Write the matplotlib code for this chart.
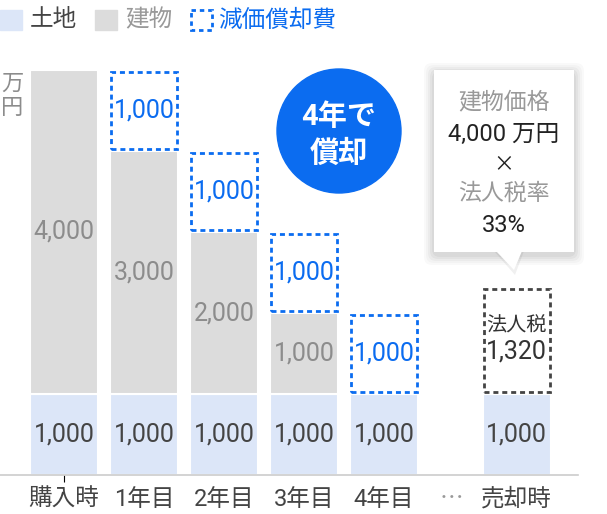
import matplotlib
matplotlib.use('Agg')
import matplotlib.pyplot as plt
from matplotlib.patches import Rectangle, Circle, Polygon, FancyBboxPatch

# 数字は Roboto、漢字は Noto Sans CJK JP
plt.rcParams['font.family'] = ['Roboto', 'Noto Sans CJK JP', 'DejaVu Sans']
CJK = ['Noto Sans CJK JP', 'DejaVu Sans']

# データ
labels = ['購入時', '1年目', '2年目', '3年目', '4年目', '…', '売却時']
tick_pos = [0, 1, 2, 3, 4, 4.84, 5.66]
bar_pos = [0, 1, 2, 3, 4, 5.66]
land = [1000, 1000, 1000, 1000, 1000, 1000]
building = [4000, 3000, 2000, 1000, 0, 0]
depreciation = [0, 1000, 1000, 1000, 1000, 0]
tax = [0, 0, 0, 0, 0, 1320]

C_LAND = '#dce6f8'
C_BLDG = '#dcdcdc'
C_BLUE = '#0b6cf0'
C_DARK = '#444444'
C_GRAY = '#8c8c8c'

W, H = 607, 514
fig = plt.figure(figsize=(W / 100, H / 100), dpi=100)

# メインの軸（底辺 y=475px, 1000 = 81px）
base_px = 475
px_per_k = 81
ax = fig.add_axes([0, (H - base_px) / H, 1, base_px / H])
ax.set_ylim(0, base_px / px_per_k * 1000)
ax.set_xlim(-0.8, (W - 64) / 80)

bw = 0.85
ax.bar(bar_pos, land, width=bw, color=C_LAND, edgecolor='white', linewidth=1.5)
ax.bar(bar_pos, building, bottom=land, width=bw, color=C_BLDG, edgecolor='white', linewidth=1.5)

# 減価償却費（点線の箱）
dep_bottom = [l + b for l, b in zip(land, building)]
for x, b, d in zip(bar_pos, dep_bottom, depreciation):
    if d == 0:
        continue
    ax.bar(x, d - 40, bottom=b + 20, width=bw - 0.02, fill=False, edgecolor=C_BLUE,
           linewidth=2, linestyle=(0, (1.8, 1.4)))
    ax.text(x, b + d / 2, f'{d:,}', ha='center', va='center', fontsize=18, color=C_BLUE)

# 法人税（黒の点線）
for x, l, t in zip(bar_pos, land, tax):
    if t == 0:
        continue
    ax.bar(x, t - 40, bottom=l + 20, width=bw - 0.02, fill=False, edgecolor='#444444',
           linewidth=2, linestyle=(0, (1.8, 1.4)))
    ax.text(x, l + t / 2 + 180, '法人税', ha='center', va='center', fontsize=14.5,
            color='#333333')
    ax.text(x, l + t / 2 - 130, f'{t:,}', ha='center', va='center', fontsize=18,
            color='#333333')

for x, l, b in zip(bar_pos, land, building):
    ax.text(x, l / 2, f'{l:,}', ha='center', va='center', fontsize=18, color=C_DARK)
    if b:
        ax.text(x, l + b / 2, f'{b:,}', ha='center', va='center', fontsize=18, color=C_GRAY)

ax.set_yticks([])
ax.set_xticks(tick_pos)
ax.set_xticklabels(labels, fontsize=17, color=C_DARK)
dots = ax.get_xticklabels()[5]
dots.set_color('#999999')
dots.set_family(CJK)
ax.tick_params(axis='x', length=0, pad=9)
t0 = ax.xaxis.get_major_ticks()[0]
t0.tick1line.set_markersize(5)
t0.tick1line.set_color('#cccccc')
for s in ['top', 'right', 'left']:
    ax.spines[s].set_visible(False)
ax.spines['bottom'].set_color('#cccccc')
ax.spines['bottom'].set_linewidth(1.2)
ax.spines['bottom'].set_bounds(-0.8, (578 - 64) / 80)

# 注釈用の重ね軸（ピクセル座標）
ov = fig.add_axes([0, 0, 1, 1])
ov.set_xlim(0, W)
ov.set_ylim(H, 0)
ov.axis('off')

# 凡例
ov.add_patch(Rectangle((0, 10), 22, 20, color=C_LAND))
ov.text(30, 20, '土地', fontsize=17, color=C_DARK, va='center')
ov.add_patch(Rectangle((95, 10), 22, 20, color=C_BLDG))
ov.text(125, 20, '建物', fontsize=17, color='#999999', va='center')
ov.add_patch(Rectangle((191, 10), 21, 20, fill=False, edgecolor=C_BLUE,
                       linewidth=2, linestyle=(0, (1.6, 1.4))))
ov.text(218, 20, '減価償却費', fontsize=17, color=C_BLUE, va='center')

# 単位
ov.text(12, 96, '万\n円', fontsize=16, color=C_GRAY, ha='center', va='center', linespacing=1.2)

# 青い丸
ov.add_patch(Circle((339, 131), 62, color=C_BLUE))
ov.text(339, 117, '4年で', fontsize=21, fontweight='bold', color='white', ha='center', va='center')
ov.text(339, 154, '償却', fontsize=21, fontweight='bold', color='white', ha='center', va='center')

# 吹き出し（影つき）
bx0, by0, bx1, by1 = 434, 70, 574, 252
for i, a in enumerate([0.025, 0.025, 0.03, 0.035, 0.04]):
    g = 10 - i * 2
    ov.add_patch(FancyBboxPatch((bx0 - g, by0 - g + 3), bx1 - bx0 + 2 * g, by1 - by0 + 2 * g,
                                boxstyle='round,pad=0,rounding_size=8', color='black',
                                alpha=a, linewidth=0))
ov.add_patch(Polygon([(494, by1 - 1), (524, by1 - 1), (515, 275)], closed=True,
                     color='black', alpha=0.06, linewidth=0))
ov.add_patch(Rectangle((bx0, by0), bx1 - bx0, by1 - by0, color='white', linewidth=0))
ov.add_patch(Polygon([(496, by1 - 1), (522, by1 - 1), (514, 270)], closed=True,
                     color='white', linewidth=0))
cx = (bx0 + bx1) / 2
ov.text(cx, 102, '建物価格', fontsize=16.5, color='#999999', ha='center', va='center')
ov.text(cx, 134, '4,000 万円', fontsize=17, color='#222222', ha='center', va='center')
ov.text(cx, 164, '×', fontsize=15, color='#222222', ha='center', va='center', family=CJK)
ov.text(cx, 193, '法人税率', fontsize=16.5, color='#999999', ha='center', va='center')
ov.text(cx, 225, '33%', fontsize=17, color='#222222', ha='center', va='center')

fig.savefig('out.png', dpi=100)
